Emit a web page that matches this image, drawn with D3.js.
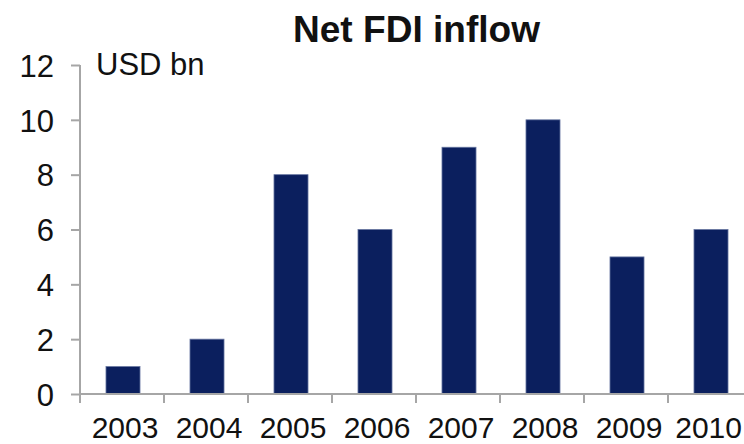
<!DOCTYPE html>
<html>
<head>
<meta charset="utf-8">
<script src="https://cdn.jsdelivr.net/npm/d3@7"></script>
<style>
  html, body { margin: 0; padding: 0; background: #fff; }
  svg { display: block; }
  text { font-family: "Liberation Sans", Arial, Helvetica, sans-serif; }
</style>
</head>
<body>
<svg id="chart" width="744" height="444"></svg>
<script>
const years = ["2003", "2004", "2005", "2006", "2007", "2008", "2009", "2010"];
const fdiValues = [1, 2, 8, 6, 9, 10, 5, 6];
const yTicks = [0, 2, 4, 6, 8, 10, 12];
const titleText = "Net FDI inflow";
const unitText = "USD bn";

const svg = d3.select("#chart");
const axisColor = "#a6a6a6";
const barColor = "#0b1f5e";

const x = d3.scaleBand().domain(years).range([81, 753]).paddingInner(0.595).paddingOuter(0.2975);
const y = d3.scaleLinear().domain([0, 12]).range([394, 65]);

// Bars
svg.append("g").selectAll("rect").data(years).join("rect")
  .attr("x", d => x(d))
  .attr("y", (d, i) => y(fdiValues[i]))
  .attr("width", x.bandwidth())
  .attr("height", (d, i) => y(0) - y(fdiValues[i]))
  .attr("fill", barColor)
  .attr("stroke", "#6675a0")
  .attr("stroke-width", 0.8);

// Y axis
const yAxis = d3.axisLeft(y).tickValues(yTicks).tickSize(9).tickPadding(17).tickFormat(d3.format("d"));
const gy = svg.append("g").attr("transform", "translate(80,0)").call(yAxis);
gy.select(".domain").attr("stroke", axisColor).attr("stroke-width", 2).attr("d", `M0,${y(12)}V${y(0) + 9}`);
gy.selectAll(".tick line").attr("stroke", axisColor).attr("stroke-width", 2);
gy.selectAll(".tick text").attr("fill", "#111").attr("font-size", 31)
  .attr("font-family", "Liberation Sans, Arial, sans-serif").attr("dy", "0.36em");

// X axis (ticks at band boundaries)
const gx = svg.append("g").attr("transform", `translate(0,${y(0)})`);
gx.append("line").attr("x1", 80).attr("x2", 752).attr("y1", 0).attr("y2", 0)
  .attr("stroke", axisColor).attr("stroke-width", 2);
const boundaries = d3.range(years.length + 1).map(i => x.range()[0] - 1 + i * x.step());
gx.selectAll("line.tk").data(boundaries).join("line").attr("class", "tk")
  .attr("x1", d => d).attr("x2", d => d).attr("y1", 0).attr("y2", 9)
  .attr("stroke", axisColor).attr("stroke-width", 2);
gx.selectAll("text").data(years).join("text")
  .attr("x", d => x(d) + x.bandwidth() / 2 + 2)
  .attr("y", 43.5)
  .attr("text-anchor", "middle")
  .attr("font-size", 30)
  .attr("fill", "#111")
  .text(d => d)
  .each(function() {
    const w = this.getComputedTextLength();
    const cx = +this.getAttribute("x");
    if (cx + w / 2 > 742) this.setAttribute("x", 742 - w / 2);
  });

// Unit label
svg.append("text").attr("x", 96).attr("y", 75).attr("font-size", 31).attr("fill", "#111").text(unitText);

// Title
svg.append("text").attr("x", 416.5).attr("y", 42).attr("text-anchor", "middle")
  .attr("font-size", 37).attr("font-weight", "bold").attr("fill", "#111")
  .attr("textLength", 247).attr("lengthAdjust", "spacingAndGlyphs")
  .text(titleText);
</script>
</body>
</html>
